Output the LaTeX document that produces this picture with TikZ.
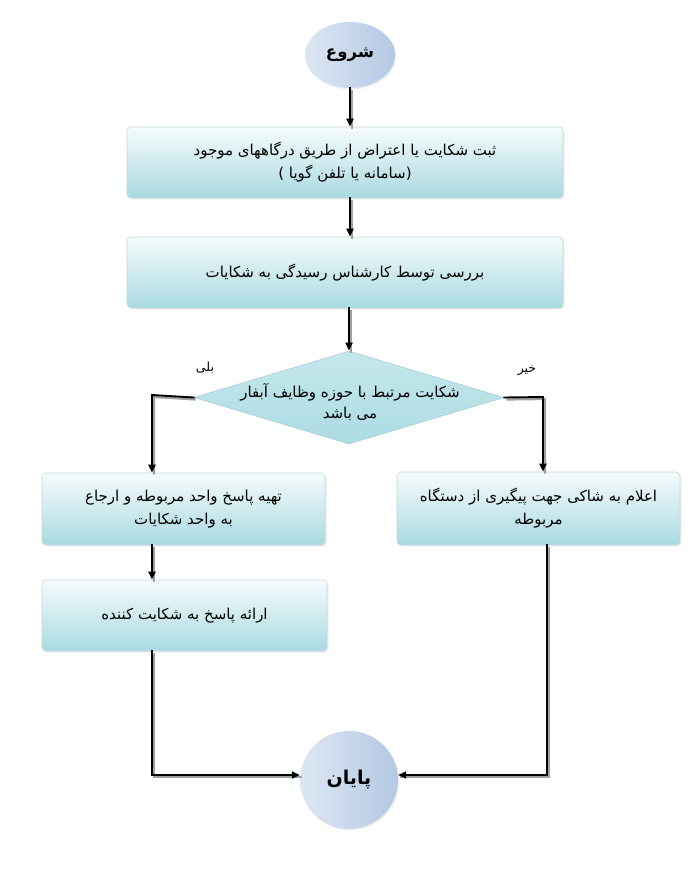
\documentclass[tikz,border=0pt]{standalone}
\usepackage{fontspec}
\usetikzlibrary{arrows.meta,shapes.geometric,shadows}
\TeXXeTstate=1
\newfontfamily\fa[Script=Arabic]{DejaVu Sans}
\newfontfamily\falat{DejaVu Sans}
\newcommand\myrl[1]{\beginR #1\endR}
\definecolor{boxbot}{HTML}{A9DAE1}
\definecolor{boxtop}{HTML}{F6FBFC}
\definecolor{boxline}{HTML}{C3D8DC}
\definecolor{ovl}{HTML}{DDE7F3}
\definecolor{ovr}{HTML}{B3C8E3}
\definecolor{diat}{HTML}{C4E8EC}
\definecolor{diab}{HTML}{ACDCE3}
\definecolor{dial}{HTML}{A9CFD5}
\definecolor{shad}{HTML}{A0A0A0}
\begin{document}
\begin{tikzpicture}[x=1pt,y=-1pt,
  procbox/.style={draw=boxline, line width=0.6pt, rounded corners=4pt,
    top color=boxtop, bottom color=boxbot, inner sep=0pt, align=center,
    font=\fa\fontsize{15}{23}\selectfont,
    drop shadow={opacity=0.15, shadow xshift=1.5pt, shadow yshift=-1.5pt}},
  term/.style={ellipse, draw=none, left color=ovl, right color=ovr, inner sep=0pt,
    font=\fa\bfseries\fontsize{19}{22}\selectfont,
    drop shadow={opacity=0.12, shadow xshift=1.5pt, shadow yshift=-1.5pt}},
  decis/.style={diamond, draw=dial, line width=0.6pt, top color=diat, bottom color=diab, inner sep=0pt},
  lbl/.style={font=\fa\fontsize{12.5}{22}\selectfont, align=center, inner sep=0pt},
  dlbl/.style={font=\fa\fontsize{15}{21}\selectfont, align=center, inner sep=0pt},
  conn/.style={line width=1.9pt, black, line cap=rect,
    preaction={draw=shad, line width=2.2pt, -, transform canvas={xshift=2pt,yshift=-2pt}}},
  tip/.style={-{Triangle[length=8pt,width=7pt]}}
]
\useasboundingbox (0,0) rectangle (699,870);

\node[term, minimum width=90pt, minimum height=66pt, font=\fa\bfseries\fontsize{16.5}{20}\selectfont] (start) at (350,55) {\myrl{شروع}};

\node[procbox, minimum width=436pt, minimum height=71pt] (b1) at (345,162.5)
  {\myrl{ثبت شکایت یا اعتراض از طریق درگاههای موجود}\\ {\falat(}\ \myrl{سامانه یا تلفن گویا}{\falat)}};

\node[procbox, minimum width=436pt, minimum height=71pt] (b2) at (345,272.5)
  {\myrl{بررسی توسط کارشناس رسیدگی به شکایات}};

\node[decis, minimum width=310pt, minimum height=93pt] (dia) at (349,397.5) {};
\node[dlbl] (diat) at (350,402) {\myrl{شکایت مرتبط با حوزه وظایف آبفار}\\ \myrl{می باشد}};

\node[lbl] (yes) at (205,368) {\myrl{بلی}};
\node[lbl] (no) at (527,371) {\myrl{خیر}};

\node[procbox, minimum width=283pt, minimum height=72pt] (b3) at (183.5,509)
  {\myrl{تهیه پاسخ واحد مربوطه و ارجاع}\\ \myrl{به واحد شکایات}};

\node[procbox, minimum width=283pt, minimum height=73pt] (b4) at (538.5,508.5)
  {\myrl{اعلام به شاکی جهت پیگیری از دستگاه}\\ \myrl{مربوطه}};

\node[procbox, minimum width=285pt, minimum height=71pt] (b5) at (184.5,615.5)
  {\myrl{ارائه پاسخ به شکایت کننده}};

\node[term, circle, minimum size=98pt] (end) at (349,780) {\myrl{پایان}};

\coordinate (lturn) at (152,395);
\coordinate (rturn) at (543,397);
\coordinate (lbot) at (152,775);
\coordinate (rbot) at (547,775);

\draw[conn,tip] (start.south) -- (start.south |- b1.north);
\draw[conn,tip] (b1.south -| start.south) -- (b2.north -| start.south);
\draw[conn,tip] (b2.south -| dia.north) -- (dia.north);
\draw[conn,tip] (dia.west) -- (lturn) -- (lturn |- b3.north);
\draw[conn,tip] (dia.east) -- (rturn) -- (rturn |- b4.north);
\draw[conn,tip] (b3.south -| lturn) -- (b5.north -| lturn);
\draw[conn,tip] (b5.south -| lbot) -- (lbot) -- (end.west |- lbot);
\draw[conn,tip] (b4.south -| rbot) -- (rbot) -- (end.east |- rbot);
\end{tikzpicture}
\end{document}
